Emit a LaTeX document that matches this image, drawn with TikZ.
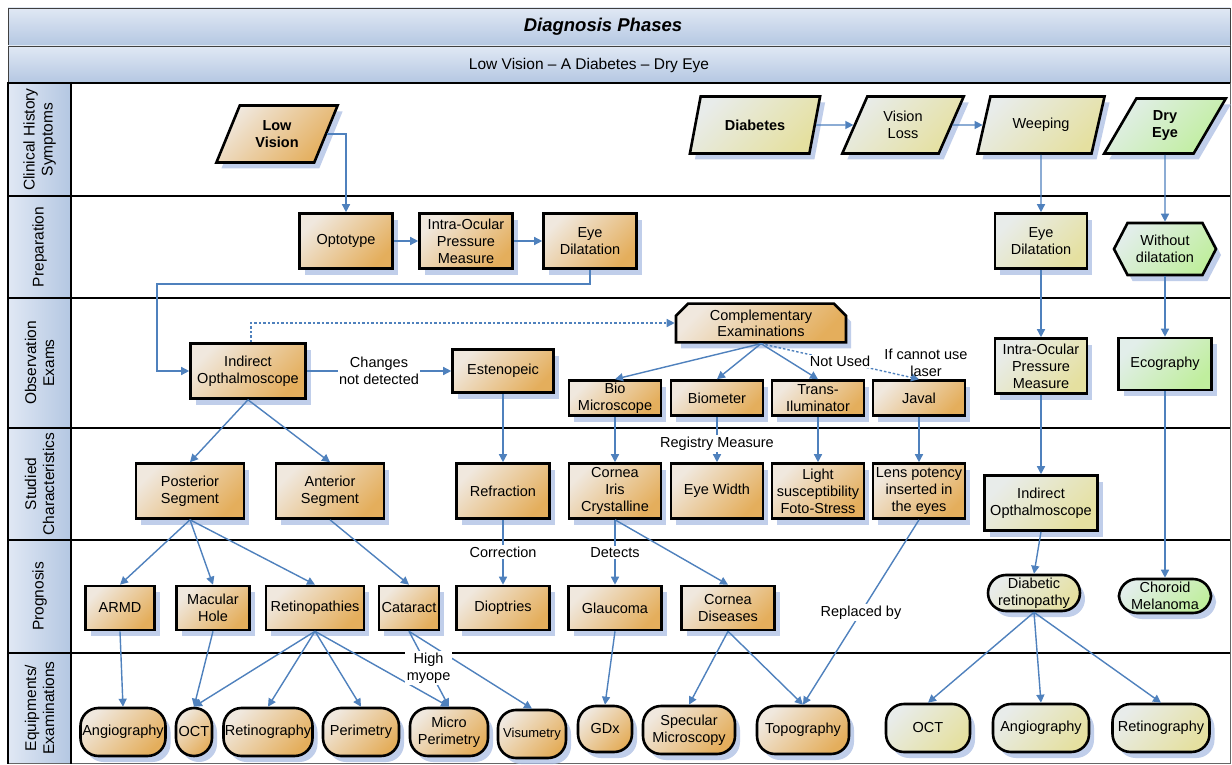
\documentclass[tikz,border=0pt]{standalone}
\usepackage{fontspec}
\setsansfont{Liberation Sans}
\usetikzlibrary{arrows.meta,shapes.geometric,shapes.misc,shapes.symbols,shadows}
\definecolor{orL}{RGB}{240,232,222}
\definecolor{orM}{RGB}{234,196,140}
\definecolor{orD}{RGB}{228,174,92}
\definecolor{yeL}{RGB}{232,236,234}
\definecolor{yeM}{RGB}{231,230,190}
\definecolor{yeD}{RGB}{229,224,160}
\definecolor{grL}{RGB}{226,238,234}
\definecolor{grM}{RGB}{208,238,190}
\definecolor{grD}{RGB}{192,238,158}
\definecolor{hdL}{RGB}{224,232,244}
\definecolor{hdD}{RGB}{180,199,226}
\definecolor{flow}{RGB}{79,129,189}
\definecolor{shadowblue}{RGB}{172,190,228}

\begin{document}
\begin{tikzpicture}[x=1pt,y=-1pt,font=\sffamily\fontsize{14.5}{17}\selectfont,
  box/.style={draw=black,line width=2.6pt,align=center,inner sep=1pt,
    drop shadow={shadow xshift=5pt,shadow yshift=-6pt,fill=shadowblue,opacity=.75}},
  obox/.style={box,top color=orL,middle color=orM,bottom color=orD,shading angle=45},
  ybox/.style={box,top color=yeL,middle color=yeM,bottom color=yeD,shading angle=45},
  gbox/.style={box,top color=grL,middle color=grM,bottom color=grD,shading angle=45},
  sz/.style 2 args={minimum width=#1,minimum height=#2},
  para/.style={trapezium,trapezium left angle=64,trapezium right angle=116,trapezium stretches=true},
  pill/.style={rounded corners=18pt},
  hexa/.style={signal,signal to=east and west,signal pointer angle=125},
  cut/.style={chamfered rectangle,chamfered rectangle corners={north west,north east},
    chamfered rectangle xsep=6pt,chamfered rectangle ysep=6pt},
  arr/.style={draw=flow,line width=1.4pt,-{Triangle[length=8pt,width=8pt]}},
  darr/.style={arr,dash pattern=on 2.5pt off 2pt},
  lbl/.style={fill=white,inner sep=1.5pt,align=center},
  lane/.style={rotate=90,align=center,font=\sffamily\fontsize{15.5}{18}\selectfont}]
\useasboundingbox (0,0) rectangle (1232,765);
\fill[white] (0,0) rectangle (1232,765);
% title bands
\shadedraw[top color=hdL,bottom color=hdD,draw=black!75,line width=.8pt] (8,8) rectangle (1230,46);
\shadedraw[top color=hdL,bottom color=hdD,draw=black!75,line width=.8pt] (8,46) rectangle (1230,83);
\node[font=\sffamily\bfseries\itshape\fontsize{18.5}{20}\selectfont] (title) at (603,27) {Diagnosis Phases};
\node[font=\sffamily\fontsize{15.5}{18}\selectfont] (subtitle) at (589,65) {Low Vision – A Diabetes – Dry Eye};
% lanes
\shade[left color=hdL,right color=hdD] (8,83) rectangle (71,763);
\draw[black!60,line width=.8pt] (8,763) -- (1230,763) -- (1230,83);
\draw[line width=2.5pt] (8,83) -- (1230,83);
\draw[line width=2.5pt] (8,196) -- (1230,196);
\draw[line width=2.5pt] (8,298) -- (1230,298);
\draw[line width=2.5pt] (8,428) -- (1230,428);
\draw[line width=2.5pt] (8,540) -- (1230,540);
\draw[line width=2.5pt] (8,653) -- (1230,653);
\draw[line width=2.5pt] (8,82) -- (8,764);
\draw[line width=2.5pt] (71,82) -- (71,764);
\node[lane] (clin) at (39.5,139.5) {Clinical History\\Symptoms};
\node[lane] (prep) at (39.5,247) {Preparation};
\node[lane] (obs) at (39.5,363) {Observation\\Exams};
\node[lane] (stud) at (39.5,484) {Studied\\Characteristics};
\node[lane] (prog) at (39.5,596.5) {Prognosis};
\node[lane] (equip) at (39.5,708) {Equipments/\\Examinations};

% clinical history
\node[obox,para,sz={122}{57},font=\sffamily\bfseries\fontsize{14.5}{17}\selectfont] (lowvis) at (277,134) {Low\\Vision};
\node[ybox,para,sz={131}{57},font=\sffamily\bfseries\fontsize{14.5}{17}\selectfont] (diab) at (755,125) {Diabetes};
\node[ybox,para,sz={122}{57}] (visloss) at (903,125) {Vision\\Loss};
\node[ybox,para,sz={128}{57}] (weep) at (1041,125) {Weeping};
\node[gbox,para,sz={122}{55},font=\sffamily\bfseries\fontsize{14.5}{17}\selectfont] (dryeye) at (1165,126) {Dry\\Eye};

% preparation
\node[obox,sz={93}{55}] (opt) at (346,241) {Optotype};
\node[obox,sz={93}{55}] (iop1) at (466,241) {Intra-Ocular\\Pressure\\Measure};
\node[obox,sz={93}{55}] (ed1) at (590,241) {Eye\\Dilatation};
\node[ybox,sz={92}{55}] (ed2) at (1041,241) {Eye\\Dilatation};
\node[gbox,hexa,sz={102}{52}] (wodil) at (1165,249) {Without\\dilatation};

% observation exams
\node[obox,sz={115}{55}] (io1) at (248,371) {Indirect\\Opthalmoscope};
\node[obox,sz={101}{43}] (esten) at (503,371) {Estenopeic};
\node[obox,cut,sz={170}{32},inner ysep=0pt,font=\sffamily\fontsize{14.5}{16}\selectfont] (comp) at (761,323) {Complementary\\Examinations};
\node[obox,sz={92}{35},inner ysep=0pt] (bio) at (615,398) {Bio\\Microscope};
\node[obox,sz={92}{35}] (biom) at (717,398) {Biometer};
\node[obox,sz={92}{35},inner ysep=0pt] (trans) at (818,398) {Trans-\\Iluminator};
\node[obox,sz={92}{35}] (javal) at (919,398) {Javal};
\node[ybox,sz={92}{55}] (iop2) at (1041,366) {Intra-Ocular\\Pressure\\Measure};
\node[gbox,sz={93}{52}] (ecog) at (1165,364) {Ecography};

% studied characteristics
\node[obox,sz={108}{55}] (post) at (190,491) {Posterior\\Segment};
\node[obox,sz={108}{55}] (ant) at (330,491) {Anterior\\Segment};
\node[obox,sz={93}{55}] (refr) at (503,491) {Refraction};
\node[obox,sz={92}{55}] (cic) at (615,491) {Cornea\\Iris\\Crystalline};
\node[obox,sz={92}{55}] (eyew) at (717,491) {Eye Width};
\node[obox,sz={92}{55}] (light) at (818,491) {Light\\susceptibility\\Foto-Stress};
\node[obox,sz={92}{55}] (lens) at (919,491) {Lens potency\\inserted in\\the eyes};
\node[ybox,sz={113}{55}] (io2) at (1041,503) {Indirect\\Opthalmoscope};

% prognosis
\node[obox,sz={69}{44}] (armd) at (120,608) {ARMD};
\node[obox,sz={73}{44}] (mach) at (213,608) {Macular\\Hole};
\node[obox,sz={98}{44}] (retp) at (315,608) {Retinopathies};
\node[obox,sz={60}{44}] (cat) at (409,608) {Cataract};
\node[obox,sz={93}{44}] (diop) at (503,608) {Dioptries};
\node[obox,sz={93}{44}] (glau) at (615,608) {Glaucoma};
\node[obox,sz={93}{44}] (cord) at (728,608) {Cornea\\Diseases};
\node[ybox,pill,sz={92}{36},inner ysep=0pt] (diabr) at (1034,593) {Diabetic\\retinopathy};
\node[gbox,pill,sz={92}{34},inner ysep=0pt] (choro) at (1165,596) {Choroid\\Melanoma};

% equipments / examinations
\node[obox,pill,sz={85}{48}] (angio1) at (123,732) {Angiography};
\node[obox,pill,sz={36}{48}] (oct1) at (194,732) {OCT};
\node[obox,pill,sz={89}{48}] (retg1) at (268,732) {Retinography};
\node[obox,pill,sz={76}{48}] (perim) at (361,732) {Perimetry};
\node[obox,pill,sz={78}{48}] (microp) at (449,732) {Micro\\Perimetry};
\node[obox,pill,sz={68}{48},font=\sffamily\fontsize{13}{15}\selectfont] (visum) at (532,734) {Visumetry};
\node[obox,pill,sz={54}{46}] (gdx) at (605,729) {GDx};
\node[obox,pill,sz={92}{48}] (spec) at (689,730) {Specular\\Microscopy};
\node[obox,pill,sz={92}{48}] (topo) at (803,730) {Topography};
\node[ybox,pill,sz={84}{48}] (oct2) at (928,728) {OCT};
\node[ybox,pill,sz={96}{48}] (angio2) at (1041,728) {Angiography};
\node[ybox,pill,sz={97}{48}] (retg2) at (1161,728) {Retinography};

% connectors
\coordinate (bend) at (157,284);
\draw[arr] (lowvis.east) -| (opt.north);
\draw[arr] (diab.east) -- (visloss.west);
\draw[arr] (visloss.east) -- (weep.west);
\draw[arr] (weep.south) -- (ed2.north);
\draw[arr] (dryeye.south) -- (wodil.north);
\draw[arr] (opt.east) -- (iop1.west);
\draw[arr] (iop1.east) -- (ed1.west);
\draw[arr] (ed1.south) |- (bend) |- (io1.west);
\draw[arr] (ed2.south) -- (iop2.north);
\draw[arr] (wodil.south) -- (ecog.north);
\draw[darr] ([xshift=3pt]io1.north) |- (comp.west);
\draw[arr] (io1.east) -- node[lbl] {Changes\\not detected} (esten.west);
\draw[arr] (comp.south) -- (bio.north);
\draw[arr] (comp.south) -- (biom.north);
\draw[arr] (comp.south) -- (trans.north);
\draw[darr] (comp.south) -- node[lbl] {Not Used} (javal.north)
  node[pos=1,anchor=south,xshift=7pt,yshift=2pt,inner sep=0pt,align=center] {If cannot use\\laser};
\draw[arr] (iop2.south) -- (io2.north);
\draw[arr] (io1.south) -- (post.north);
\draw[arr] (io1.south) -- (ant.north);
\draw[arr] (esten.south) -- (refr.north);
\draw[arr] (bio.south) -- (cic.north);
\draw[arr] (biom.south) -- node[lbl,pos=.59] {Registry Measure} (eyew.north);
\draw[arr] (trans.south) -- (light.north);
\draw[arr] (javal.south) -- (lens.north);
\draw[arr] (post.south) -- (armd.north);
\draw[arr] (post.south) -- (mach.north);
\draw[arr] (post.south) -- (retp.north);
\draw[arr] (ant.south) -- (cat.north);
\draw[arr] (refr.south) -- node[lbl] {Correction} (diop.north);
\draw[arr] (cic.south) -- node[lbl] {Detects} (glau.north);
\draw[arr] (cic.south) -- (cord.north);
\draw[arr] (io2.south) -- (diabr.north);
\draw[arr] (ecog.south) -- (choro.north);
\draw[arr] (armd.south) -- (angio1.north);
\draw[arr] (mach.south) -- (oct1.north);
\draw[arr] (retp.south) -- (oct1.north);
\draw[arr] (retp.south) -- (retg1.north);
\draw[arr] (retp.south) -- (perim.north);
\draw[arr] (retp.south) -- (microp.north);
\draw[arr] (cat.south) -- (visum.north);
\draw[arr] (cat.south) -- node[lbl,pos=.49] {High\\myope} (microp.north);
\draw[arr] (glau.south) -- (gdx.north);
\draw[arr] (cord.south) -- (spec.north);
\draw[arr] (cord.south) -- (topo.north);
\draw[arr] (lens.south) -- node[lbl] {Replaced by} (topo.north);
\draw[arr] (diabr.south) -- (oct2.north);
\draw[arr] (diabr.south) -- (angio2.north);
\draw[arr] (diabr.south) -- (retg2.north);
\end{tikzpicture}
\end{document}
